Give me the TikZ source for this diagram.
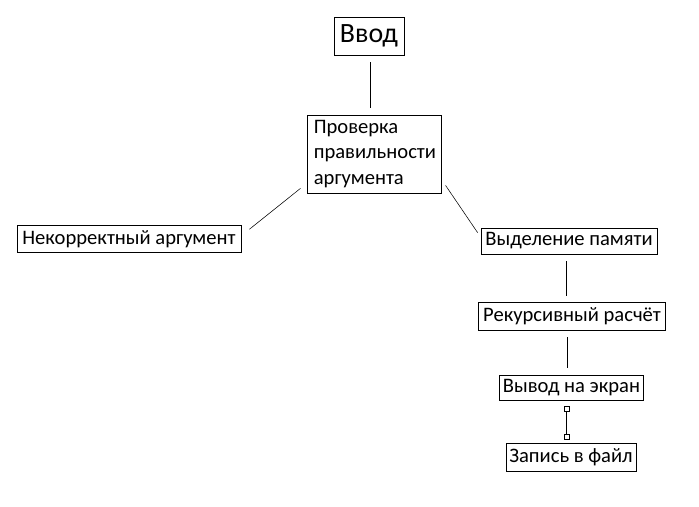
\documentclass[tikz,border=0pt]{standalone}
\usepackage{fontspec}
\setmainfont{Carlito}
\usepackage{tikz}

\begin{document}
\begin{tikzpicture}[x=0.75bp,y=-0.75bp,
    box/.style={draw,semithick,inner sep=0pt,font=\fontsize{15.5}{19.5}\selectfont},
    gap/.style={shorten <=5bp,shorten >=5bp},
    handle/.style={draw,fill=white,line width=0.5pt,inner sep=0pt,minimum size=4bp}]
          \useasboundingbox (0,0) rectangle (699,507);
          \node[box,minimum width=52.5bp,minimum height=28.5bp,font=\fontsize{21}{24}\selectfont] (vvod) at (369,36) {Ввод};
          \node[box,minimum height=58.5bp,inner xsep=4.5bp,align=left,text width=91bp] (check) at (374.5,154)
            {Проверка\\правильности\\аргумента};
          \node[box,minimum width=168bp,minimum height=20bp] (wrong) at (129,239) {Некорректный аргумент};
          \node[box,minimum width=132bp,minimum height=19.5bp] (alloc) at (569,241) {Выделение памяти};
          \node[box,minimum width=140bp,minimum height=20.5bp] (rec) at (572,316.5) {Рекурсивный расчёт};
          \node[box,minimum width=108bp,minimum height=19bp] (out) at (571.5,388) {Вывод на экран};
          \node[box,minimum width=97.5bp,minimum height=21.5bp] (file) at (571,457.5) {Запись в файл};
            \draw[gap] ([xshift=0.75bp]vvod.south) -- ([xshift=0.75bp]vvod.south |- check.north);
            \draw ([shift={(-7,-5)}]check.south west) -- ([shift={(8,4)}]wrong.north east);
            \draw ([shift={(4,-8)}]check.south east) -- ([shift={(-3,5)}]alloc.north west);
            \draw[gap] ([xshift=-2.25bp]alloc.south) -- ([xshift=-2.25bp]alloc.south |- rec.north);
            \draw[gap] ([xshift=-3.75bp]rec.south) -- ([xshift=-3.75bp]rec.south |- out.north);
            \coordinate (h1) at ([shift={(-5,8)}]out.south);
            \coordinate (h2) at ([yshift=4.5bp]h1 |- file.north);
            \draw[semithick] (h1) -- (h2);
            \node[handle] at (h1) {};
            \node[handle] at (h2) {};
        \end{tikzpicture}
\end{document}
